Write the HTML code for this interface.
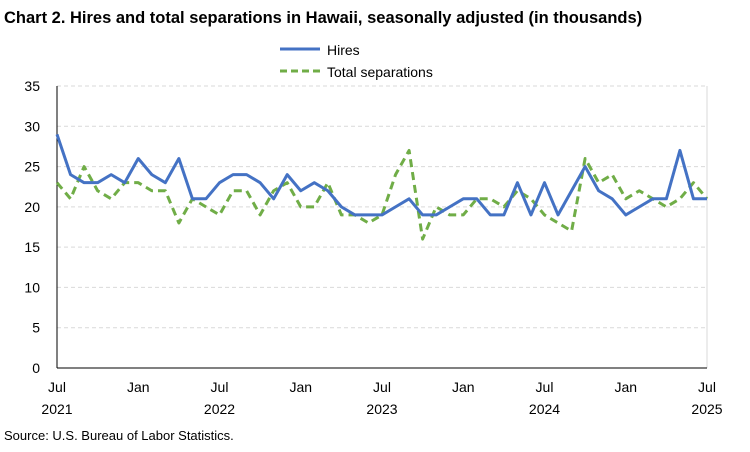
<!DOCTYPE html>
<html><head><meta charset="utf-8"><style>
body{margin:0;background:#fff;font-family:"Liberation Sans",Arial,sans-serif}
svg text{font-family:"Liberation Sans",Arial,sans-serif}
</style></head><body>
<svg id="c" width="750" height="447" xmlns="http://www.w3.org/2000/svg">
<text x="4" y="23" font-size="16.5" font-weight="bold" fill="#000">Chart 2. Hires and total separations in Hawaii, seasonally adjusted (in thousands)</text>
<g>
<line x1="280" y1="49" x2="320" y2="49" stroke="#4472C4" stroke-width="3"/>
<text x="327" y="55" font-size="14">Hires</text>
<line x1="280" y1="71" x2="320" y2="71" stroke="#70AD47" stroke-width="3" stroke-dasharray="7,4"/>
<text x="327" y="77" font-size="14">Total separations</text>
</g>
<g id="grid"></g><g id="axes"></g><g id="series"></g>
<text x="4" y="440" font-size="13">Source: U.S. Bureau of Labor Statistics.</text>
</svg>
<script>
const hires=[29,24,23,23,24,23,26,24,23,26,21,21,23,24,24,23,21,24,22,23,22,20,19,19,19,20,21,19,19,20,21,21,19,19,23,19,23,19,22,25,22,21,19,20,21,21,27,21,21];
const separations=[23,21,25,22,21,23,23,22,22,18,21,20,19,22,22,19,22,23,20,20,23,19,19,18,19,24,27,16,20,19,19,21,21,20,22,21,19,18,17,26,23,24,21,22,21,20,21,23,21];
const yTicks=[0,5,10,15,20,25,30,35];
const xTickIdx=[0,6,12,18,24,30,36,42,48];
const xTickMonths=["Jul","Jan","Jul","Jan","Jul","Jan","Jul","Jan","Jul"];
const xTickYears=["2021","","2022","","2023","","2024","","2025"];
const NS="http://www.w3.org/2000/svg";
const X0=57,X1=707,Y0=368,Y1=86;
const x=i=>X0+(X1-X0)*i/48;
const y=v=>Y0-(Y0-Y1)*v/35;
function mk(t,a,p){const e=document.createElementNS(NS,t);for(const k in a)e.setAttribute(k,a[k]);document.getElementById(p).appendChild(e);return e;}
yTicks.forEach(v=>{
 if(v>0){const l=mk('line',{x1:X0,x2:X1,y1:y(v),y2:y(v),stroke:'#d9d9d9','stroke-dasharray':'4,3'},'grid');
 
 }
 const t=mk('text',{x:X0-17,y:y(v)+5,'font-size':'14','text-anchor':'end',fill:'#000'},'axes');t.textContent=v;
 
 
});
const ra=mk('line',{x1:X1,x2:X1,y1:Y1,y2:Y0,stroke:'#d9d9d9'},'grid');


const ya=mk('line',{x1:X0,x2:X0,y1:Y1,y2:Y0,stroke:'#000'},'axes');


const xa=mk('line',{x1:X0,x2:X1,y1:Y0,y2:Y0,stroke:'#000'},'axes');


xTickIdx.forEach((i,k)=>{
 const t=mk('text',{x:x(i),y:392,'font-size':'14','text-anchor':'middle'},'axes');t.textContent=xTickMonths[k];
 
 
 if(xTickYears[k]){const t2=mk('text',{x:x(i),y:414,'font-size':'14','text-anchor':'middle'},'axes');t2.textContent=xTickYears[k];
 
 }
});
const p1=mk('polyline',{points:separations.map((v,i)=>x(i)+','+y(v)).join(' '),fill:'none',stroke:'#70AD47','stroke-width':3,'stroke-dasharray':'8,5','stroke-linejoin':'round'},'series');


const p2=mk('polyline',{points:hires.map((v,i)=>x(i)+','+y(v)).join(' '),fill:'none',stroke:'#4472C4','stroke-width':3,'stroke-linejoin':'round'},'series');


</script>
</body></html>
